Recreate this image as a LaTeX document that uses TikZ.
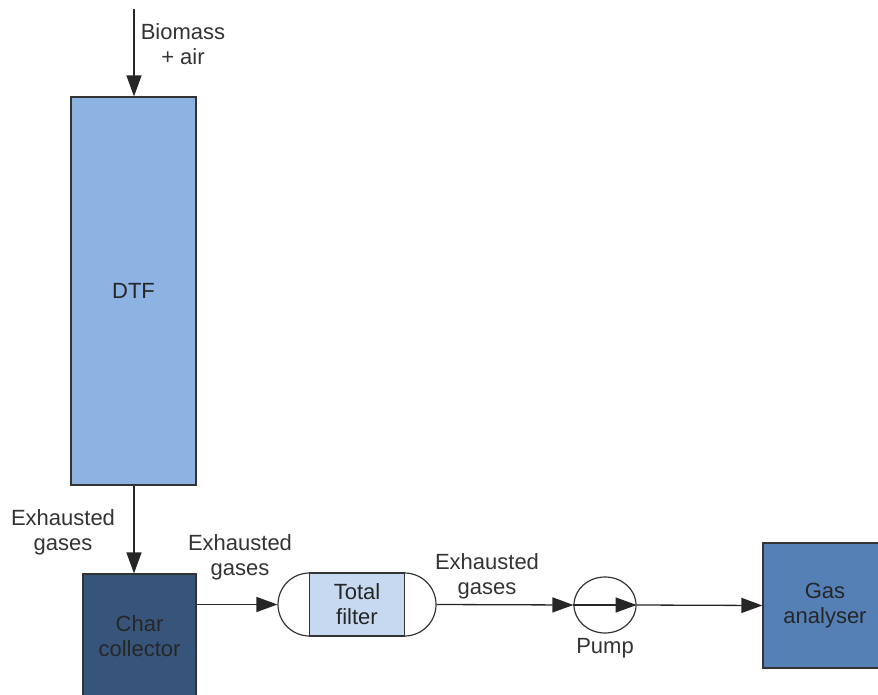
\documentclass[tikz,border=0pt]{standalone}
\usepackage{fontspec}
\setmainfont{Liberation Sans}
\usetikzlibrary{arrows.meta,shapes.geometric,shapes.misc}
\definecolor{dtfblue}{HTML}{8DB3E2}
\definecolor{charblue}{HTML}{37557A}
\definecolor{filtblue}{HTML}{C6D9F1}
\definecolor{gasblue}{HTML}{5580B5}

\begin{document}
\begin{tikzpicture}[x=0.5pt, y=-0.5pt,
      unit/.style={draw=black!80, line width=0.6pt, font=\fontsize{11}{12.5}\selectfont,
        text=black!85, align=center, inner sep=0pt},
      flow/.style={-{Triangle[length=10.5pt,width=7.5pt]}, line width=0.65pt, draw=black!85},
      etq/.style={font=\fontsize{11}{12.5}\selectfont, text=black!80, align=center, inner sep=1pt}
    ]
    \useasboundingbox (0,0) rectangle (878,695);
    \clip (0,0) rectangle (878,695);
    \node[unit, fill=dtfblue, minimum width=62.5pt, minimum height=194pt] (dtf) at (133.5,291) {DTF};
    \node[unit, fill=charblue, minimum width=56.5pt, minimum height=62pt] (char) at (139.5,636) {Char\\collector};
    \node[unit, rounded rectangle, fill=white, minimum width=79pt, minimum height=31.5pt] (filt) at (357,604.5) {};
    \node[unit, fill=filtblue, minimum width=47.5pt, minimum height=31.5pt] (tf) at (filt.center) {Total\\filter};
    \node[unit, ellipse, minimum width=31pt, minimum height=28pt] (pump) at (605,605) {};
    \node[unit, fill=gasblue, minimum width=62pt, minimum height=62.5pt] (gas) at (825,605.5) {Gas\\analyser};
    \coordinate (feed) at (134,9);
    \draw[flow] (feed) -- (feed |- dtf.north);
    \draw[flow] (dtf.south -| feed) -- (char.north -| feed);
    \draw[flow] (char.east |- filt.west) -- (filt.west);
    \draw[flow] (filt.east) -- (pump.west);
    \draw[flow] (pump.west) -- (pump.east);
    \draw[flow] (pump.east) -- (gas.west);
    \node[etq] (inlbl) at (183,44) {Biomass\\+ air};
    \node[etq] (ex1) at (63,532) {Exhausted\\gases};
    \node[etq] (ex2) at (240,557) {Exhausted\\gases};
    \node[etq] (ex3) at (487,576) {Exhausted\\gases};
    \node[etq, below=1pt] (plbl) at (pump.south) {Pump};
  \end{tikzpicture}
\end{document}
